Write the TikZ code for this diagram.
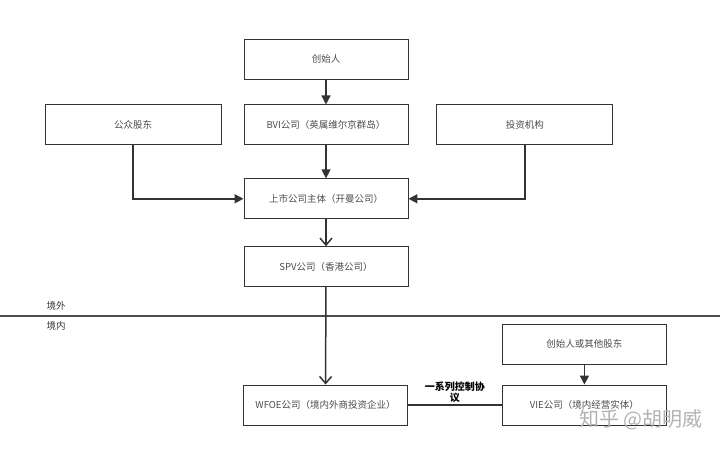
\documentclass[tikz,border=0pt]{standalone}
\usepackage{fontspec}
\setmainfont{Noto Sans CJK SC}
\usetikzlibrary{
    arrows.meta,
    positioning
}

\begin{document}
\begin{tikzpicture}[
    x=1pt, y=-1pt,
    node distance=25pt and 22pt,
    entity/.style={
        draw=black!80,
        line width=0.9pt,
        align=center,
        minimum width=164pt,
        minimum height=40pt,
        inner sep=0pt,
        text=black!70,
        font=\fontsize{9.5}{11}\selectfont
    },
    side/.style={
        entity,
        minimum width=176pt
    },
    zone/.style={
        text=black!80,
        font=\fontsize{9.5}{11}\selectfont
    },
    solid arrow/.style={-{Triangle[length=9pt,width=9pt]},line width=1.5pt,draw=black!80},
    open arrow/.style={-{Straight Barb[length=7pt,width=12pt]},line width=1.5pt,draw=black!80},
    link/.style={line width=1.5pt,draw=black!80}
]
\useasboundingbox (0,0) rectangle (720,452);

% offshore part
\node[entity] (founder) at (326,59) {创始人};
\node[entity, below=of founder] (bvi) {BVI公司（英属维尔京群岛）};
\node[entity, below=33pt of bvi] (listed) {上市公司主体（开曼公司）};
\node[entity, below=27pt of listed] (spv) {SPV公司（香港公司）};

\node[side, left=of bvi] (public) {公众股东};
\node[side, right=28pt of bvi] (investor) {投资机构};

% border
\coordinate (borderL) at (0,316);
\coordinate (borderR) at (720,316);
\draw[line width=1.4pt, black!70] (borderL) -- (borderR);
\node[zone, above right=2pt and 43pt of borderL] (outside) {境外};
\node[zone, below right=2pt and 43pt of borderL] (inside) {境内};

% onshore part
\node[entity] (wfoe) at (325.5,405) {WFOE公司（境内外商投资企业）};
\node[entity, right=94pt of wfoe] (vie) {VIE公司（境内经营实体）};
\node[entity, above=20pt of vie] (holders) {创始人或其他股东};

\draw[solid arrow] (founder) -- (bvi);
\draw[solid arrow] (bvi) -- (listed);
\draw[solid arrow] (public.south) |- (listed.west);
\draw[solid arrow] (investor.south) |- (listed.east);
\draw[open arrow] (listed) -- (spv);
\draw[open arrow] (spv) -- (wfoe);
\draw[solid arrow] (holders) -- (vie);
\draw[link] (wfoe) -- node[above, align=center, font=\bfseries\fontsize{10}{11}\selectfont, inner sep=2pt]
{一系列控制协\\议} (vie);

% watermark
\node[text=black!30, font=\fontsize{20}{22}\selectfont, anchor=east] (mark) at (706,420) {知乎 @胡明威};

\end{tikzpicture}
\end{document}
